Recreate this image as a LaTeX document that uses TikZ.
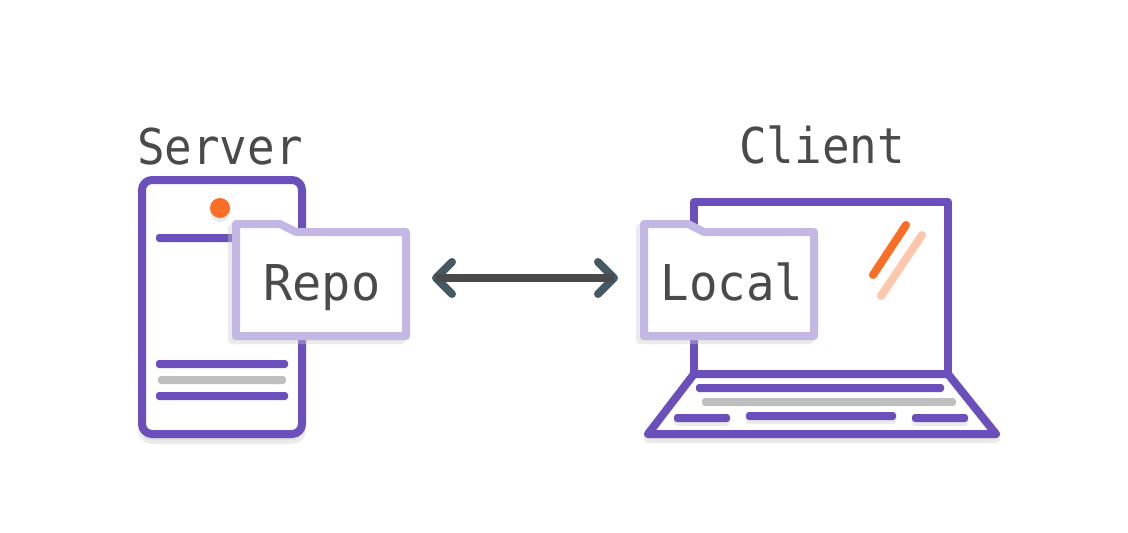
\documentclass[tikz,border=0pt]{standalone}
\usepackage{fontspec}
\newfontfamily\monoA[FakeStretch=0.93]{DejaVu Sans Mono}
\newfontfamily\monoB[FakeStretch=0.985]{DejaVu Sans Mono}
\newfontfamily\monoC[FakeStretch=0.96]{DejaVu Sans Mono}
\definecolor{purp}{HTML}{6B4FBB}
\definecolor{lilac}{HTML}{C4B7E4}
\definecolor{barg}{HTML}{BFBFBF}
\definecolor{orng}{HTML}{FC6D26}
\definecolor{peach}{HTML}{FEC6AB}
\definecolor{ink}{HTML}{4A4A4A}
\definecolor{teal}{HTML}{455A64}
\definecolor{shadowgray}{HTML}{CCCCCC}
\tikzset{
  px/.style={x=0.75pt,y=-0.75pt},
  outline/.style={draw=purp,line width=6pt,line join=round},
  slash/.style={line width=6pt,line cap=round},
  purplebar/.style={fill=purp,rounded corners=2.25pt},
  graybar/.style={fill=barg,rounded corners=2.25pt},
  shadowbar/.style={fill=shadowgray,opacity=0.4,rounded corners=2.25pt},
  folderline/.style={draw=lilac,fill=white,line width=6pt,line join=round},
  shadowfill/.style={fill=shadowgray,draw=shadowgray,line width=6pt,line join=round,opacity=0.4,transparency group},
  labeltext/.style={text=ink,inner sep=0pt,anchor=base},
  chev/.style={draw=teal,line width=6pt,line cap=round,line join=round},
  shaft/.style={draw=ink,line width=6pt},
}
\newcommand{\labelfont}[1]{#1\fontsize{37}{42}\selectfont}
\begin{document}
\begin{tikzpicture}[px]
\useasboundingbox (0,0) rectangle (1128,532);
% server
\draw[shadowfill,rounded corners=7.5pt] (142,186) rectangle (302,440);
\draw[outline,rounded corners=7.5pt,fill=white] (142,180) rectangle (302,434);
\fill[shadowgray,opacity=.4] (220,212) circle[radius=7.5pt];
\fill[orng] (220,208) circle[radius=7.5pt];
\path[purplebar] (156,234) rectangle (240,242);
\path[purplebar] (156,360) rectangle (288,368);
\path[graybar] (158,376) rectangle (286,384);
\path[purplebar] (156,392) rectangle (288,400);
% server folder
\draw[shadowfill] (232,228) -- (276,228) -- (292,236) -- (402,236) -- (402,340) -- (232,340) -- cycle;
\draw[folderline] (236,224) -- (280,224) -- (296,232) -- (406,232) -- (406,336) -- (236,336) -- cycle;
% laptop
\draw[outline,fill=white] (694,374) -- (694,202) -- (948,202) -- (948,374) -- cycle;
\draw[shadowfill] (648,439) -- (996,439) -- (948,380) -- (694,380) -- cycle;
\draw[outline,fill=white] (694,374) -- (648,434) -- (996,434) -- (948,374) -- cycle;
\path[purplebar] (696,384) rectangle (944,392);
\path[graybar] (702,398) rectangle (956,406);
\path[shadowbar] (674,418) rectangle (730,426);
\path[shadowbar] (746,416) rectangle (896,424);
\path[shadowbar] (912,418) rectangle (968,426);
\path[purplebar] (674,414) rectangle (730,422);
\path[purplebar] (746,412) rectangle (896,420);
\path[purplebar] (912,414) rectangle (968,422);
\draw[slash,draw=orng] (906,225) -- (873,275);
\draw[slash,draw=peach] (922,235) -- (881,296);
% local folder
\draw[shadowfill] (640,228) -- (684,228) -- (700,236) -- (810,236) -- (810,340) -- (640,340) -- cycle;
\draw[folderline] (644,224) -- (688,224) -- (704,232) -- (814,232) -- (814,336) -- (644,336) -- cycle;
% labels
\node[labeltext,font=\labelfont\monoA] (server) at (220,164) {Server};
\node[labeltext,font=\labelfont\monoA] (client) at (822,163) {Client};
\node[labeltext,font=\labelfont\monoB] (repo) at (322,300) {Repo};
\node[labeltext,font=\labelfont\monoC] (local) at (732,300) {Local};
% connector
\coordinate (arrowL) at (436,278);
\coordinate (arrowR) at (614,278);
\draw[chev] (452,262) -- (arrowL) -- (452,294);
\draw[chev] (598,262) -- (arrowR) -- (598,294);
\draw[shaft] (arrowL) -- (arrowR);
\end{tikzpicture}
\end{document}
